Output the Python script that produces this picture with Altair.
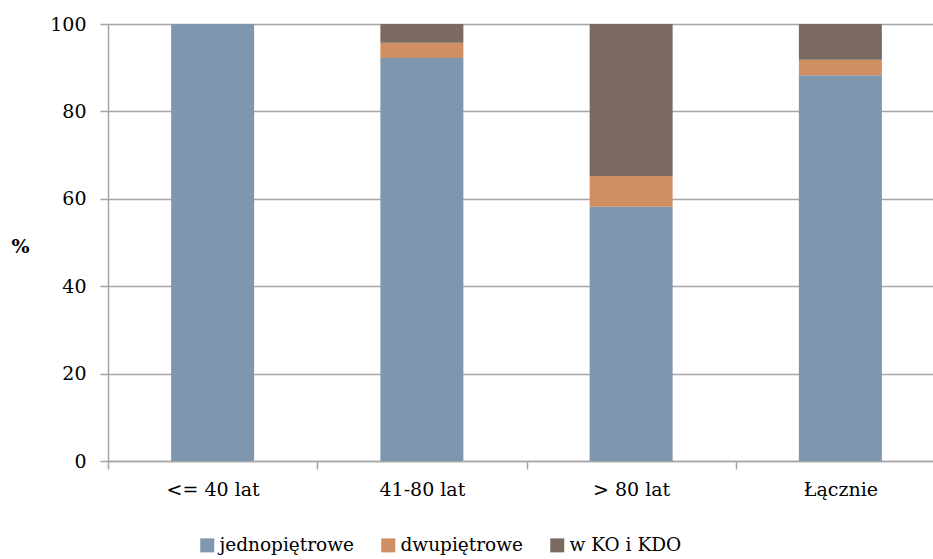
import altair as alt
import pandas as pd

# Shares of building types by age group (%)
categories = ["<= 40 lat", "41-80 lat", "> 80 lat", "Łącznie"]
series_names = ["jednopiętrowe", "dwupiętrowe", "w KO i KDO"]
jednopietrowe = [100.0, 92.2, 58.2, 88.3]
dwupietrowe = [0.0, 3.5, 7.0, 3.5]
w_ko_i_kdo = [0.0, 4.3, 34.8, 8.2]
colors = ["#7f97ae", "#cf8f62", "#7a6a5f"]

rows = []
for i, cat in enumerate(categories):
    for k, (name, vals) in enumerate(zip(series_names, [jednopietrowe, dwupietrowe, w_ko_i_kdo])):
        rows.append({"kategoria": cat, "typ": name, "udzial": vals[i], "kolejnosc": k})
df = pd.DataFrame(rows)

FONT = "DejaVu Serif"
GRID = "#a6a6a6"
FS = 19

chart = alt.Chart(df).mark_bar(size=83).encode(
    x=alt.X(
        "kategoria:N",
        sort=categories,
        title=None,
        scale=alt.Scale(range=[0, 837], paddingInner=0, paddingOuter=0),
        axis=alt.Axis(
            labelAngle=0,
            labelFont=FONT,
            labelFontSize=FS,
            labelColor="#000000",
            labelPadding=11,
            tickBand="extent",
            tickSize=8,
            tickColor=GRID,
            tickWidth=1.5,
            domainColor=GRID,
            domainWidth=1.5,
            grid=False,
        ),
    ),
    y=alt.Y(
        "udzial:Q",
        stack="zero",
        scale=alt.Scale(domain=[0, 100], nice=False),
        axis=alt.Axis(
            values=[0, 20, 40, 60, 80, 100],
            title="%",
            titleAngle=0,
            titleFont=FONT,
            titleFontSize=FS,
            titleFontWeight="bold",
            titleAlign="center",
            titleBaseline="middle",
            titleX=-88,
            titleY=222,
            labelFont=FONT,
            labelFontSize=FS,
            labelColor="#000000",
            labelPadding=14,
            tickSize=8,
            tickColor=GRID,
            tickWidth=1.5,
            domainColor=GRID,
            domainWidth=1.5,
            gridColor=GRID,
            gridWidth=1.5,
        ),
    ),
    color=alt.Color(
        "typ:N",
        sort=series_names,
        scale=alt.Scale(domain=series_names, range=colors),
        legend=alt.Legend(
            title=None,
            orient="none",
            direction="horizontal",
            legendX=90,
            legendY=512,
            symbolType="square",
            symbolSize=196,
            symbolStrokeWidth=0,
            symbolOpacity=1,
            labelFont=FONT,
            labelFontSize=18.5,
            labelColor="#000000",
            labelOffset=3,
            columnPadding=25,
        ),
    ),
    order=alt.Order("kolejnosc:Q", sort="ascending"),
).properties(
    width=825,
    height=437,
    autosize=alt.AutoSizeParams(type="none"),
    padding={"left": 108, "top": 24, "right": 0, "bottom": 98},
).configure_view(stroke=None).configure(background="#ffffff", font=FONT)

chart.save("out.html", embed_options={"renderer": "svg", "actions": False})
